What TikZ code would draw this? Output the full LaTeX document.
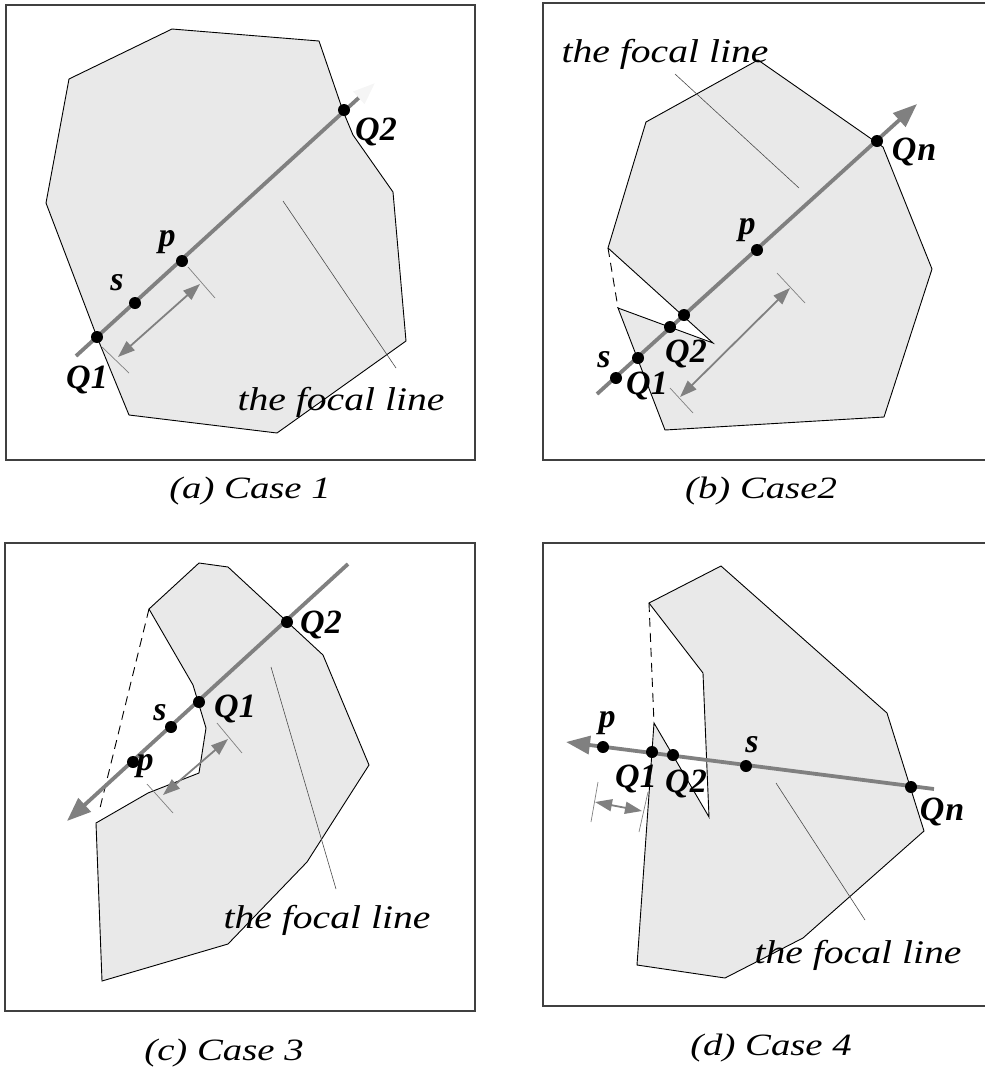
\documentclass[tikz,border=0pt]{standalone}
\usepackage{fontspec}
\setmainfont{Liberation Serif}
\newfontfamily\wideserif[FakeStretch=1.2]{Liberation Serif}
\newfontfamily\capserif[FakeStretch=1.25]{Liberation Serif}
\usetikzlibrary{arrows.meta}
\begin{document}
\begin{tikzpicture}[x=1pt,y=-1pt,
  frame/.style={draw=black!75,line width=1.3pt},
  poly/.style={draw=black,line width=0.9pt,fill=gray!17,line join=miter},
  hull/.style={draw=black,line width=0.9pt,dash pattern=on 9pt off 6pt},
  focal/.style={draw=gray,line width=3.8pt},
  focalarrow/.style={focal,-{Triangle[length=24pt,width=18pt]}},
  dimarrow/.style={draw=gray,line width=1.8pt,{Triangle[length=17pt,width=12pt]}-{Triangle[length=17pt,width=12pt]}},
  ext/.style={draw=gray,line width=0.7pt},
  leader/.style={draw=black!70,line width=0.6pt},
  dot/.style={circle,fill=black,inner sep=0pt,minimum size=12pt},
  lab/.style={font=\bfseries\itshape\fontsize{34}{36}\selectfont,inner sep=0pt,anchor=base},
  ftext/.style={font=\wideserif\itshape\fontsize{33}{35}\selectfont,inner sep=0pt,anchor=base},
  captext/.style={font=\capserif\itshape\fontsize{31}{33}\selectfont,inner sep=0pt,anchor=base}]
\useasboundingbox (0,0) rectangle (985,1069);

% ---------------- (a) ----------------
\draw[frame] (6,5) rectangle (475,460);
\draw[poly] (172,29) -- (319,41) -- (343,111) -- (353,135) -- (393,192) -- (406,341) -- (277,433) -- (129,415) -- (97,337) -- (46,203) -- (69,79) -- cycle;
\coordinate (aS) at (76,356);
\coordinate (aE) at (375,83);
\draw[focal,-{Triangle[length=22pt,width=16pt,color=gray!8]}] (aS) -- (aE);
\coordinate (aX1a) at (188,267); \coordinate (aX1b) at (215,298);
\coordinate (aX2a) at (102,347); \coordinate (aX2b) at (129,373);
\draw[ext] (aX1a) -- (aX1b);
\draw[ext] (aX2a) -- (aX2b);
\coordinate (aD1) at (118,357); \coordinate (aD2) at (200,284);
\draw[dimarrow] (aD1) -- (aD2);
\coordinate (aL1) at (283,201); \coordinate (aL2) at (396,368);
\draw[leader] (aL1) -- (aL2);
\node[dot] (aQ1) at (97,337) {};
\node[dot] (as) at (135,303) {};
\node[dot] (ap) at (182,261) {};
\node[dot] (aQ2) at (344,110) {};
\node[lab] (aQ2l) at (376,140) {Q2};
\node[lab] (apl) at (167,246) {p};
\node[lab] (asl) at (117,290) {s};
\node[lab] (aQ1l) at (87,388) {Q1};
\node[ftext] (aft) at (341,410) {the focal line};
\node[captext] (acap) at (250,498) {(a) Case 1};

% ---------------- (b) ----------------
\draw[frame] (985,3) -- (543,3) -- (543,460) -- (985,460);
\draw[poly] (758,60) -- (883,147) -- (932,269) -- (884,417) -- (665,430) -- (618,308) -- (713,343) -- (608,248) -- (646,122) -- cycle;
\coordinate (bH1) at (608,248); \coordinate (bH2) at (618,308);
\draw[hull] (bH1) -- (bH2);
\coordinate (bS) at (597,394);
\coordinate (bE) at (917,104);
\draw[focalarrow] (bS) -- (bE);
\coordinate (bX1a) at (777,273); \coordinate (bX1b) at (805,303);
\coordinate (bX2a) at (670,388); \coordinate (bX2b) at (693,413);
\draw[ext] (bX1a) -- (bX1b);
\draw[ext] (bX2a) -- (bX2b);
\coordinate (bD1) at (680,397); \coordinate (bD2) at (790,288);
\draw[dimarrow] (bD1) -- (bD2);
\coordinate (bL1) at (675,74); \coordinate (bL2) at (799,188);
\draw[leader] (bL1) -- (bL2);
\node[dot] (bs) at (616,378) {};
\node[dot] (bQ1) at (638,358) {};
\node[dot] (bQ2) at (670,327) {};
\node[dot] (bR) at (684,315) {};
\node[dot] (bp) at (757,250) {};
\node[dot] (bQn) at (877,141) {};
\node[lab] (bsl) at (604,367) {s};
\node[lab] (bQ1l) at (647,394) {Q1};
\node[lab] (bQ2l) at (686,362) {Q2};
\node[lab] (bpl) at (747,234) {p};
\node[lab] (bQnl) at (914,160) {Q\kern1pt n};
\node[ftext] (bft) at (665,62) {the focal line};
\node[captext] (bcap) at (761,498) {(b) Case2};

% ---------------- (c) ----------------
\draw[frame] (5,543) rectangle (475,1011);
\draw[poly] (199,563) -- (228,567) -- (323,655) -- (369,765) -- (307,862) -- (228,944) -- (102,981) -- (96,823) -- (148,793) -- (199,773) -- (206,728) -- (193,685) -- (149,609) -- cycle;
\coordinate (cH1) at (149,609); \coordinate (cH2) at (99,812);
\draw[hull] (cH1) -- (cH2);
\coordinate (cS) at (348,564);
\coordinate (cE) at (67,821);
\draw[focalarrow] (cS) -- (cE);
\coordinate (cX1a) at (217,723); \coordinate (cX1b) at (242,753);
\coordinate (cX2a) at (147,784); \coordinate (cX2b) at (173,813);
\draw[ext] (cX1a) -- (cX1b);
\draw[ext] (cX2a) -- (cX2b);
\coordinate (cD1) at (163,795); \coordinate (cD2) at (228,739);
\draw[dimarrow] (cD1) -- (cD2);
\coordinate (cL1) at (271,667); \coordinate (cL2) at (336,889);
\draw[leader] (cL1) -- (cL2);
\node[dot] (cQ2) at (287,622) {};
\node[dot] (cQ1) at (199,702) {};
\node[dot] (cs) at (171,727) {};
\node[dot] (cp) at (133,762) {};
\node[lab] (cQ2l) at (321,633) {Q2};
\node[lab] (cQ1l) at (235,717) {Q1};
\node[lab] (csl) at (160,720) {s};
\node[lab] (cpl) at (145,770) {p};
\node[ftext] (cft) at (327,928) {the focal line};
\node[captext] (ccap) at (224,1060) {(c) Case 3};

% ---------------- (d) ----------------
\draw[frame] (985,543) -- (543,543) -- (543,1006) -- (985,1006);
\draw[poly] (721,566) -- (887,713) -- (924,831) -- (803,938) -- (725,978) -- (637,965) -- (654,723) -- (709,817) -- (703,673) -- (649,603) -- cycle;
\coordinate (dH1) at (649,603); \coordinate (dH2) at (654,723);
\draw[hull] (dH1) -- (dH2);
\coordinate (dS) at (934,789);
\coordinate (dE) at (566,742);
\draw[focalarrow] (dS) -- (dE);
\coordinate (dX1a) at (598,782); \coordinate (dX1b) at (591,822);
\coordinate (dX2a) at (648,792); \coordinate (dX2b) at (639,832);
\draw[ext] (dX1a) -- (dX1b);
\draw[ext] (dX2a) -- (dX2b);
\coordinate (dD1) at (595,802); \coordinate (dD2) at (642,811);
\draw[dimarrow] (dD1) -- (dD2);
\coordinate (dL1) at (776,783); \coordinate (dL2) at (865,920);
\draw[leader] (dL1) -- (dL2);
\node[dot] (dQn) at (911,787) {};
\node[dot] (ds) at (746,766) {};
\node[dot] (dQ2) at (673,755) {};
\node[dot] (dQ1) at (652,752) {};
\node[dot] (dp) at (603,747) {};
\node[lab] (dpl) at (607,727) {p};
\node[lab] (dsl) at (752,752) {s};
\node[lab] (dQ1l) at (636,787) {Q1};
\node[lab] (dQ2l) at (686,792) {Q2};
\node[lab] (dQnl) at (942,820) {Q\kern1pt n};
\node[ftext] (dft) at (858,963) {the focal line};
\node[captext] (dcap) at (771,1055) {(d) Case 4};
\end{tikzpicture}
\end{document}
